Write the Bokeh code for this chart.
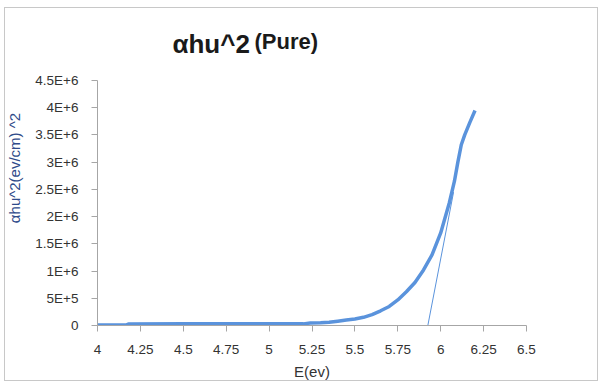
from bokeh.plotting import figure
from bokeh.models import Range1d, FixedTicker, Label, InlineStyleSheet
from bokeh.embed import file_html
from bokeh.resources import INLINE

# ---- data ----
energy_ev = [4.0, 4.1, 4.17, 4.18, 4.5, 4.75, 5.0, 5.2, 5.24, 5.3, 5.35, 5.4,
             5.45, 5.5, 5.55, 5.6, 5.65, 5.7, 5.75, 5.8, 5.85, 5.9, 5.95, 6.0,
             6.05, 6.08, 6.1, 6.12, 6.14, 6.17, 6.2]
ahu2 = [0.01e6, 0.01e6, 0.012e6, 0.028e6, 0.03e6, 0.03e6, 0.03e6, 0.03e6,
        0.045e6, 0.05e6, 0.06e6, 0.08e6, 0.10e6, 0.12e6, 0.15e6, 0.20e6,
        0.27e6, 0.35e6, 0.47e6, 0.62e6, 0.79e6, 1.02e6, 1.30e6, 1.70e6,
        2.25e6, 2.65e6, 3.0e6, 3.32e6, 3.5e6, 3.73e6, 3.95e6]
tangent_x = [5.925, 6.075]
tangent_y = [0.0, 2.45e6]

x_ticks = [4.0, 4.25, 4.5, 4.75, 5.0, 5.25, 5.5, 5.75, 6.0, 6.25, 6.5]
x_tick_labels = ["4", "4.25", "4.5", "4.75", "5", "5.25", "5.5", "5.75", "6", "6.25", "6.5"]
y_ticks = [0, 500000, 1000000, 1500000, 2000000, 2500000, 3000000, 3500000, 4000000, 4500000]
y_tick_labels = ["0", "5E+5", "1E+6", "1.5E+6", "2E+6", "2.5E+6", "3E+6", "3.5E+6", "4E+6", "4.5E+6"]
y_axis_max = 4.5e6

LINE = "#5a93dc"
AXIS = "#a6a6a6"
TXT = "#333333"

# layout in canvas pixels
FL, FB, FT, AX_TOP = 97, 325, 10, 80   # frame left, frame bottom, frame top, pixel row of the axis top
y_end = y_axis_max * (FB - FT) / (FB - AX_TOP)  # frame extends above the axis so the title fits inside

border_css = InlineStyleSheet(css="""
:host { position: relative; }
:host::after {
  content: ""; position: absolute; left: 4px; top: 7px; right: 3px; bottom: 2px;
  border: 1.5px solid #c8c8c8; pointer-events: none; z-index: 100;
}
""")

p = figure(width=601, height=383, output_backend="svg", toolbar_location=None,
           x_range=Range1d(4, 6.5), y_range=Range1d(0, y_end),
           min_border_left=FL, min_border_right=75, min_border_top=FT, min_border_bottom=383 - FB,
           stylesheets=[border_css])
p.background_fill_color = "white"
p.border_fill_color = "white"
p.outline_line_color = None
p.grid.visible = False

p.line(energy_ev, ahu2, line_color=LINE, line_width=3.5)
p.line(tangent_x, tangent_y, line_color=LINE, line_width=1)

for ax in (p.xaxis[0], p.yaxis[0]):
    ax.axis_line_color = AXIS
    ax.major_tick_line_color = AXIS
    ax.minor_tick_line_color = None
    ax.major_tick_in = 0
    ax.major_tick_out = 6
    ax.major_label_text_font = "Liberation Sans"
    ax.major_label_text_font_size = "13.5px"
    ax.major_label_text_color = TXT
    ax.axis_label_text_font = "Liberation Sans"
    ax.axis_label_text_font_style = "normal"

p.xaxis.ticker = FixedTicker(ticks=x_ticks)
p.xaxis.major_label_overrides = dict(zip(x_ticks, x_tick_labels))
p.xaxis.major_label_standoff = 13
p.xaxis.axis_label = "E(ev)"
p.xaxis.axis_label_text_font_size = "15px"
p.xaxis.axis_label_text_color = TXT
p.xaxis.axis_label_standoff = 6

p.yaxis.ticker = FixedTicker(ticks=y_ticks)
p.yaxis.bounds = (0, y_axis_max)
p.yaxis.major_label_overrides = dict(zip(y_ticks, y_tick_labels))
p.yaxis.major_label_standoff = 13
p.yaxis.axis_label = "αhu^2(ev/cm) ^2"
p.yaxis.axis_label_text_font_size = "15px"
p.yaxis.axis_label_text_color = "#2f4b8a"
p.yaxis.axis_label_standoff = 9

# title pieces (screen units: from frame left / frame bottom)
p.add_layout(Label(x=172 - FL, y=FB - 43, x_units="screen", y_units="screen", text="αhu^2",
                   text_font="Liberation Sans", text_font_style="bold", text_font_size="26px",
                   text_color="#1a1a1a", text_baseline="alphabetic"))
p.add_layout(Label(x=254 - FL, y=FB - 41, x_units="screen", y_units="screen", text="(Pure)",
                   text_font="Liberation Sans", text_font_style="bold", text_font_size="22px",
                   text_color="#1a1a1a", text_baseline="alphabetic"))

open("out.html", "w").write(file_html(p, INLINE))
